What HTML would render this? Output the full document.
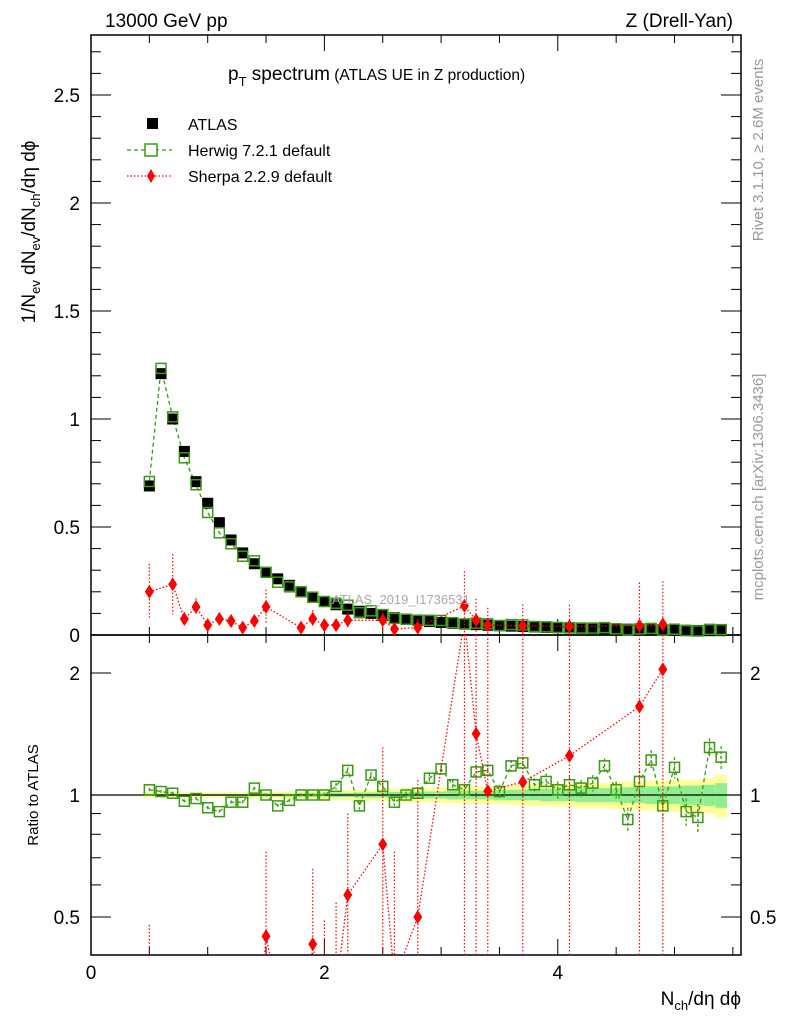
<!DOCTYPE html>
<html><head><meta charset="utf-8"><style>
html,body{margin:0;padding:0;background:#fff;overflow:hidden;width:786px;height:1024px;}
svg{display:block;font-family:"Liberation Sans",sans-serif;}
</style></head><body>
<svg id="chart" width="786" height="1024" viewBox="0 0 786 1024" xmlns="http://www.w3.org/2000/svg">
<defs><clipPath id="c"><rect x="91" y="635" width="650" height="320"/></clipPath></defs>
<g id="bands"></g>
<g id="grid"></g>
<g id="marks"></g>
<text x="105" y="27" font-size="19">13000 GeV pp</text>
<text x="733" y="27" font-size="19" text-anchor="end">Z (Drell-Yan)</text>
<text x="228" y="80" font-size="19">p<tspan font-size="13" dy="6">T</tspan><tspan dy="-6"> spectrum</tspan><tspan font-size="15.5"> (ATLAS UE in Z production)</tspan></text>
<text x="332" y="604" font-size="13" fill="#aaa">ATLAS_2019_I1736531</text>
<text transform="translate(763,150) rotate(-90)" font-size="15" fill="#999" text-anchor="middle">Rivet 3.1.10, ≥ 2.6M events</text>
<text transform="translate(763,487) rotate(-90)" font-size="15" fill="#999" text-anchor="middle">mcplots.cern.ch [arXiv:1306.3436]</text>
<text transform="translate(35,232) rotate(-90)" font-size="19" text-anchor="middle">1/N<tspan font-size="13" dy="5">ev</tspan><tspan dy="-5"> dN</tspan><tspan font-size="13" dy="5">ev</tspan><tspan dy="-5">/dN</tspan><tspan font-size="13" dy="5">ch</tspan><tspan dy="-5">/dη dϕ</tspan></text>
<text transform="translate(38,795) rotate(-90)" font-size="15" text-anchor="middle">Ratio to ATLAS</text>
<text x="741" y="1005" font-size="19" text-anchor="end">N<tspan font-size="13" dy="5">ch</tspan><tspan dy="-5">/dη dϕ</tspan></text>
<g>
<rect x="147" y="118" width="11" height="11" fill="#000"/>
<text x="188" y="130" font-size="16">ATLAS</text>
<line x1="127" y1="150" x2="172" y2="150" stroke="#3a9a10" stroke-dasharray="4,3" stroke-width="1.3"/>
<rect x="145" y="144" width="12" height="12" fill="#fff" stroke="#3a9a10" stroke-width="1.5"/>
<text x="188" y="156" font-size="16">Herwig 7.2.1 default</text>
<line x1="127" y1="176" x2="172" y2="176" stroke="red" stroke-dasharray="1.5,2" stroke-width="1.3"/>
<path d="M151,169 L155,176 L151,183 L147,176Z" fill="red"/>
<text x="188" y="182" font-size="16">Sherpa 2.2.9 default</text>
</g>
</svg>
<script>
const xs = [0.5,0.6,0.7,0.8,0.9,1.0,1.1,1.2,1.3,1.4,1.5,1.6,1.7,1.8,1.9,2.0,2.1,2.2,2.3,2.4,2.5,2.6,2.7,2.8,2.9,3.0,3.1,3.2,3.3,3.4,3.5,3.6,3.7,3.8,3.9,4.0,4.1,4.2,4.3,4.4,4.5,4.6,4.7,4.8,4.9,5.0,5.1,5.2,5.3,5.4];
const atlasVals = [0.69,1.21,1.0,0.85,0.71,0.61,0.52,0.44,0.38,0.33,0.29,0.26,0.23,0.20,0.175,0.155,0.14,0.12,0.11,0.10,0.09,0.08,0.073,0.068,0.062,0.058,0.054,0.05,0.048,0.045,0.043,0.041,0.039,0.037,0.035,0.034,0.032,0.031,0.03,0.029,0.028,0.027,0.026,0.025,0.024,0.023,0.022,0.021,0.02,0.02];
const herwigRatio = [1.03,1.02,1.01,0.965,0.98,0.93,0.91,0.96,0.96,1.04,1.0,0.94,0.97,1.0,1.0,1.0,1.05,1.15,0.94,1.12,1.05,0.96,1.0,1.01,1.1,1.16,1.06,1.03,1.14,1.15,1.02,1.18,1.2,1.06,1.08,1.03,1.06,1.04,1.07,1.18,1.03,0.87,1.08,1.22,0.94,1.17,0.91,0.88,1.31,1.24];
const herwigRatioErr = [0.01,0.01,0.01,0.01,0.01,0.01,0.01,0.01,0.01,0.01,0.01,0.01,0.01,0.01,0.01,0.015,0.02,0.02,0.02,0.02,0.02,0.02,0.02,0.03,0.03,0.03,0.03,0.03,0.04,0.04,0.04,0.04,0.04,0.04,0.05,0.05,0.05,0.05,0.05,0.05,0.05,0.06,0.07,0.07,0.07,0.07,0.07,0.07,0.07,0.08];
const yellowBand = [0.015,0.015,0.015,0.015,0.015,0.015,0.015,0.015,0.015,0.02,0.02,0.02,0.02,0.02,0.02,0.025,0.025,0.03,0.03,0.03,0.035,0.035,0.04,0.04,0.04,0.045,0.045,0.05,0.05,0.05,0.05,0.055,0.06,0.06,0.06,0.065,0.065,0.07,0.07,0.07,0.075,0.08,0.08,0.085,0.085,0.09,0.09,0.09,0.1,0.12];
const greenBand = [0.005,0.005,0.005,0.005,0.005,0.005,0.005,0.005,0.005,0.008,0.008,0.008,0.008,0.01,0.01,0.01,0.012,0.012,0.015,0.015,0.015,0.018,0.018,0.02,0.02,0.02,0.025,0.025,0.025,0.025,0.03,0.03,0.03,0.03,0.035,0.035,0.035,0.04,0.04,0.04,0.04,0.045,0.045,0.05,0.05,0.05,0.055,0.055,0.06,0.07];
const sherpaX = [0.5,0.7,0.8,0.9,1.0,1.1,1.2,1.3,1.4,1.5,1.8,1.9,2.0,2.1,2.2,2.5,2.6,2.8,3.2,3.3,3.4,3.7,4.1,4.7,4.9];
const sherpaVals = [0.20,0.235,0.074,0.13,0.046,0.074,0.065,0.034,0.065,0.13,0.034,0.075,0.046,0.046,0.068,0.068,0.028,0.034,0.135,0.068,0.046,0.042,0.04,0.043,0.049];
const sherpaErr = [0.13,0.14,0.03,0.04,0.03,0.03,0.03,0.02,0.03,0.08,0.02,0.04,0.03,0.03,0.04,0.05,0.03,0.04,0.16,0.1,0.08,0.1,0.1,0.2,0.2];

const NS="http://www.w3.org/2000/svg";
const X0=91, X1=741, MT=35, MB=635, RT=635, RB=955;
const xPx = v => X0 + v*116.7;
const yMain = v => MB - v*216;
const yRat = v => 795 - Math.log2(v)*122;
function mk(parent, tag, attrs){const e=document.createElementNS(NS,tag);for(const k in attrs)e.setAttribute(k,attrs[k]);document.getElementById(parent).appendChild(e);return e;}
const clampR = y => Math.max(RT, Math.min(RB, y));

for(let i=0;i<xs.length;i++){
  const xa=xPx(xs[i]-0.05), xb=xPx(xs[i]+0.05);
  let e=mk('bands','rect',{x:xa,y:yRat(1+yellowBand[i]),width:xb-xa,height:yRat(1-yellowBand[i])-yRat(1+yellowBand[i]),fill:'#ffff99'});
  
  
  e=mk('bands','rect',{x:xa,y:yRat(1+greenBand[i]),width:xb-xa,height:yRat(1-greenBand[i])-yRat(1+greenBand[i]),fill:'#90ee90'});
  
  
}

let f=mk('grid','rect',{x:X0,y:MT,width:X1-X0,height:MB-MT,fill:'none',stroke:'#000','stroke-width':1.5});


f=mk('grid','rect',{x:X0,y:RT,width:X1-X0,height:RB-RT,fill:'none',stroke:'#000','stroke-width':1.5});


f=mk('grid','line',{x1:X0,x2:X1,y1:795,y2:795,stroke:'#000','stroke-width':1.2});


for(let k=0;k<=11;k++){
  const v=k*0.5, x=xPx(v), L=(k%4==0)?16:8;
  for(const [yb,dir] of [[MB,-1],[MT,1],[RB,-1],[RT,1]]){
    const t=mk('grid','line',{x1:x,x2:x,y1:yb,y2:yb+dir*L,stroke:'#000','stroke-width':1});
    
    
  }
}
const xLabels=[0,2,4];
xLabels.forEach(v=>{const t=mk('grid','text',{x:xPx(v),y:979,'font-size':19,'text-anchor':'middle'});t.textContent=v;
  
  });
for(let k=0;k<=27;k++){
  const v=k*0.1, y=yMain(v), L=(k%5==0)?20:10;
  if(y<MT) continue;
  for(const [xb,dir] of [[X0,1],[X1,-1]]){
    const t=mk('grid','line',{x1:xb,x2:xb+dir*L,y1:y,y2:y,stroke:'#000','stroke-width':1});
    
    
  }
}
const yLabels=['0','0.5','1','1.5','2','2.5'];
yLabels.forEach((s,i)=>{const t=mk('grid','text',{x:80,y:yMain(i*0.5)+7,'font-size':19,'text-anchor':'end'});t.textContent=s;
  
  });
const rTicks=[0.5,0.6,0.7,0.8,0.9,1,2];
rTicks.forEach(v=>{const y=yRat(v),L=(v==0.5||v==1||v==2)?20:10;
  for(const [xb,dir] of [[X0,1],[X1,-1]]){
    const t=mk('grid','line',{x1:xb,x2:xb+dir*L,y1:y,y2:y,stroke:'#000','stroke-width':1});
    
    
  }});
const rLabels=['0.5','1','2'];
rLabels.forEach(s=>{const v=parseFloat(s);
  let t=mk('grid','text',{x:80,y:yRat(v)+7,'font-size':19,'text-anchor':'end'});t.textContent=s;
  
  
  t=mk('grid','text',{x:750,y:yRat(v)+7,'font-size':19});t.textContent=s;
  
  });

const hMain=xs.map((x,i)=>atlasVals[i]*herwigRatio[i]);
let e=mk('marks','polyline',{points:xs.map((x,i)=>xPx(x)+','+yMain(hMain[i])).join(' '),fill:'none',stroke:'#3a9a10','stroke-width':1.3,'stroke-dasharray':'4,3'});


xs.forEach((x,i)=>{const r=mk('marks','rect',{x:xPx(x)-5.5,y:yMain(atlasVals[i])-5.5,width:11,height:11,fill:'#000'});
  
  });
xs.forEach((x,i)=>{const r=mk('marks','rect',{x:xPx(x)-5,y:yMain(hMain[i])-5,width:10,height:10,fill:'none',stroke:'#3a9a10','stroke-width':1.5});
  
  });
e=mk('marks','polyline',{points:xs.map((x,i)=>xPx(x)+','+yRat(herwigRatio[i])).join(' '),fill:'none',stroke:'#3a9a10','stroke-width':1.3,'stroke-dasharray':'4,3'});


xs.forEach((x,i)=>{
  const l=mk('marks','line',{x1:xPx(x),x2:xPx(x),y1:yRat(herwigRatio[i]+herwigRatioErr[i]),y2:yRat(herwigRatio[i]-herwigRatioErr[i]),stroke:'#3a9a10','stroke-width':1.3,'stroke-dasharray':'3,2'});
  
  
  const r=mk('marks','rect',{x:xPx(x)-5,y:yRat(herwigRatio[i])-5,width:10,height:10,fill:'none',stroke:'#3a9a10','stroke-width':1.5});
  
  });
e=mk('marks','polyline',{points:sherpaX.map((x,i)=>xPx(x)+','+yMain(sherpaVals[i])).join(' '),fill:'none',stroke:'red','stroke-width':1.3,'stroke-dasharray':'1.5,2'});


const atlasAt = x => atlasVals[Math.round((x-0.5)*10)];
sherpaX.forEach((x,i)=>{
  const l=mk('marks','line',{x1:xPx(x),x2:xPx(x),y1:Math.max(MT,yMain(sherpaVals[i]+sherpaErr[i])),y2:Math.min(MB,yMain(sherpaVals[i]-sherpaErr[i])),stroke:'red','stroke-width':1.2,'stroke-dasharray':'1.5,2'});
  
  
  const cx=xPx(x), cy=yMain(sherpaVals[i]);
  const p=mk('marks','path',{d:`M${cx},${cy-7}L${cx+4.5},${cy}L${cx},${cy+7}L${cx-4.5},${cy}Z`,fill:'red'});
  
  
});
const sRatio=sherpaX.map((x,i)=>sherpaVals[i]/atlasAt(x));
e=mk('marks','polyline',{points:sherpaX.map((x,i)=>xPx(x)+','+yRat(sRatio[i])).join(' '),fill:'none',stroke:'red','stroke-width':1.3,'stroke-dasharray':'1.5,2','clip-path':'url(#c)'});


sherpaX.forEach((x,i)=>{
  const r=sRatio[i], er=sherpaErr[i]/atlasAt(x);
  const l=mk('marks','line',{x1:xPx(x),x2:xPx(x),y1:clampR(yRat(r+er)),y2:clampR(r-er>0?yRat(r-er):RB),stroke:'red','stroke-width':1.2,'stroke-dasharray':'1.5,2','clip-path':'url(#c)'});
  
  
  const cx=xPx(x), cy=yRat(r);
  if(cy>RT && cy<RB){
    const p=mk('marks','path',{d:`M${cx},${cy-7}L${cx+4.5},${cy}L${cx},${cy+7}L${cx-4.5},${cy}Z`,fill:'red','clip-path':'url(#c)'});
    
    
  }
});
</script>
</body></html>
